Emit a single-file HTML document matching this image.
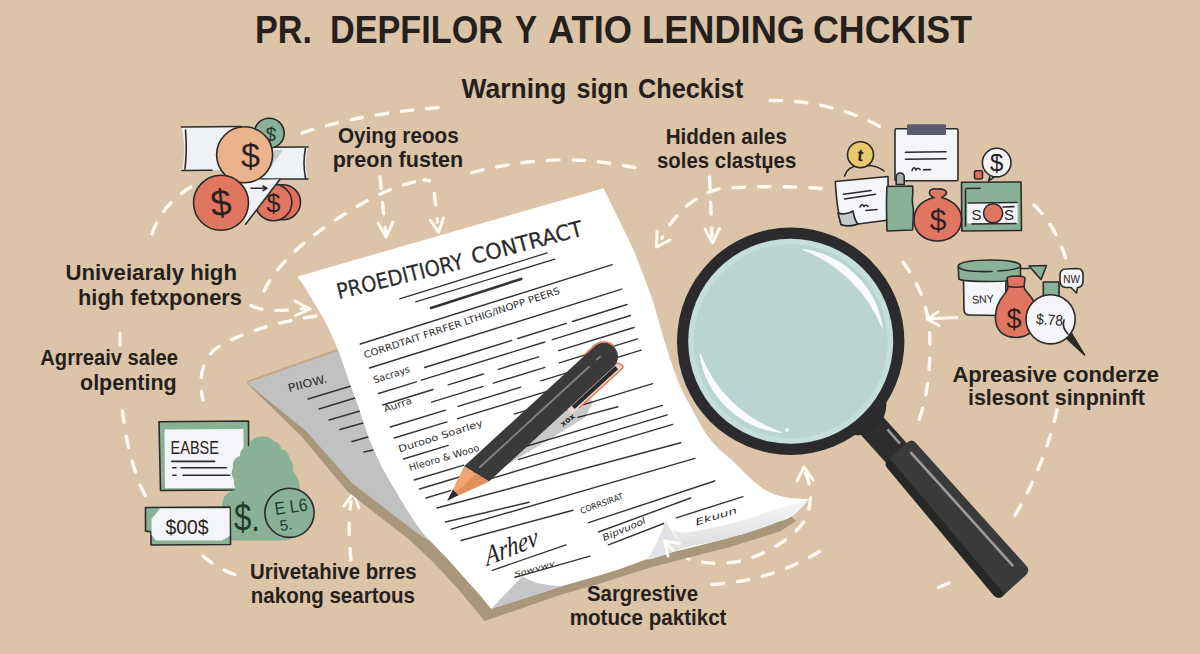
<!DOCTYPE html>
<html lang="en">
<head>
<meta charset="utf-8">
<title>Predatory Lending Checklist</title>
<style>
html,body{margin:0;padding:0;background:#dcc4a9;}
body{width:1200px;height:654px;overflow:hidden;}
svg{display:block;}
.lbl{font-family:"Liberation Sans",sans-serif;font-weight:700;fill:#261f1c;stroke:#261f1c;stroke-width:0;}
.hand{font-family:"DejaVu Sans","Liberation Sans",sans-serif;fill:#2b2b2b;}
.dash{fill:none;stroke:#fffaf2;stroke-width:3.4;stroke-linecap:round;stroke-dasharray:11.5 14;}
.ah{fill:none;stroke:#fffaf2;stroke-width:3;stroke-linecap:round;stroke-linejoin:round;}
.pl{stroke:#333;stroke-width:1.4;stroke-linecap:round;fill:none;}
.ol{stroke:#2a2a2a;stroke-width:1.6;stroke-linejoin:round;stroke-linecap:round;}
</style>
</head>
<body>
<svg width="1200" height="654" viewBox="0 0 1200 654">
<rect width="1200" height="654" fill="#dcc4a9"/>

<!-- ===== DASHES ===== -->
<g id="dashes">
<!-- A1: left arc into coins -->
<path class="dash" d="M152,234 C160,210 178,192 202,181"/>
<!-- A2 + C1: big top arc -->
<path class="dash" d="M302,133 C340,120 390,111 446,107"/>
<path class="dash" d="M770,100.5 C812,100 852,110 886,130"/>
<!-- A3: arc from paper-left up and across top -->
<path class="dash" d="M264,291 C280,258 320,226 376,196 C395,187 410,182 424,180"/>
<path class="dash" d="M472,172.7 C500,165 535,160 565,159.8 C595,160 622,164.5 648,170.5"/>
<path class="dash" d="M424,180 C431,179.7 433,183 434,190 L437.5,222" stroke-dashoffset="6"/>
<path class="ah" d="M430.3,220 L438.5,232.2 L443.5,218"/>
<!-- A4 vertical arrow -->
<path class="dash" d="M380,177 L385.5,232"/>
<path class="ah" d="M378,223 L386,237 L393,222"/>
<!-- A5: arrow to paper -->
<path class="dash" d="M251,305.5 C262,312 284,311 304,308.5"/>
<path class="ah" d="M295,301 L310,309 L295.5,315.5"/>
<!-- A6/B1: curve from paper left going down-left -->
<path class="dash" d="M316,316 C276,322 236,334 214,350 C202,362 198,380 203,400"/>
<!-- B2: long left vertical -->
<path class="ah" d="M120,333.5 L120,345"/>
<path class="dash" d="M122.5,411 C125,435 131,462 140,485 L147,499"/>
<!-- B3 -->
<path class="dash" d="M203,556 C212,564 224,571 236,575"/>
<!-- B4 up arrow -->
<path class="dash" d="M351,560 C349,540 348,520 351,502"/>
<path class="ah" d="M344,506 L353.5,493 L359,508"/>
<!-- C3 vertical arrow to lens -->
<path class="dash" d="M709.5,177 L712,236"/>
<path class="ah" d="M705,229 L712.5,243 L719.5,228.5"/>
<!-- C4 curve -->
<path class="dash" d="M821,188.5 C790,186 750,186 718,189 C694,196 674,214 662,238"/>
<path class="ah" d="M657,231 L656.5,247 L670,240"/>
<!-- C5/C7 big right arc -->
<path class="dash" d="M1034,205 C1052,222 1064,246 1070,275"/>
<path class="dash" d="M1057,410 C1048,450 1032,488 1011,522"/>
<path class="dash" d="M949,583 L936,588.5"/>
<!-- C6 -->
<path class="dash" d="M903,262 C918,282 927,304 929.5,330 C931,360 929,392 919,420"/>
<path class="ah" d="M930,318.8 L957,317.5"/>
<path class="ah" d="M938,312 L927,319 L939,325.5"/>
<!-- C8 double-arrow arc below paper -->
<path class="dash" d="M805.5,473 C813,490 812,508 803,523 C792,538 770,552 745,560 C725,565 702,564 688,558.5 C678,554 671,548 666,543"/>
<path class="ah" d="M797,481 L804,467 L813,480"/>
<!-- C9 -->
<path class="dash" d="M712,584.5 C756,582 796,568 828,546"/>
</g>

<!-- ===== PAPERS ===== -->
<g id="papers">
<!-- tan under-strip above grey paper -->
<path d="M247,380.8 L338,348.8 L340,353 L247,383.5 Z" fill="#c4a988"/>
<!-- shadow under everything -->
<path d="M247,383.5 L302,437 L347,491 L378,515.5 L408,538.5 L434,563 L459,590 L484.5,621 L560,595 L600,583.5 L652,567 L728,547.5 L780,531.5 L796,521 L790,515 L700,500 L500,500 L300,400 Z" fill="#a8977b"/>
<!-- grey paper -->
<path d="M247,383 L338,351 L400,470 L440,545 L427,539.5 L413,530 L383,507 L352,483 L306,431 Z" fill="#c1c1c1"/>
<g class="pl" stroke="#3a3a3a">
<path d="M308,399 L351,386"/><path d="M319,409 L355,398"/><path d="M329,420 L360,411"/>
<path d="M340,429.5 L363,423"/><path d="M352,441.5 L368,437"/><path d="M364,452 L373,450"/>
</g>
<text class="hand" font-size="11" transform="translate(289,392) rotate(-14)" textLength="40" lengthAdjust="spacingAndGlyphs">PIIOW.</text>

<!-- white paper -->
<path d="M297.5,276.5 L603.5,188.3
 L619.5,221 L633.6,250 C640,266 645,279 649,290 C654,304 658,318 661,329.5 C665,343 669,356 673.4,369 C678,382 683,393 688.7,403 C694,413 699,422 704,430.4 C712,443.5 722,452 731.8,460 C737,465 742,470 747,475.3 C753,481 759,486 766.2,490.6 C772,494 778,496 785.3,497.3 C793,498.5 800,499 808.5,499.3
 C804,505 799,511 793,515.4 C789,518 785,520 780,521 C760,529 740,535 723,539.5 C705,544 690,548 673,552
 L650,558 L620,569 L600,575.2 L562.4,585.9
 L491.2,608.8
 L478.5,593.4 C468,582 457,569 446.7,557.9 C438,549 430,541 422.2,532.2 C412,519 404,505 396,491.5 C390,482 386,474 383.3,470 C376,455 371,444 368,435 C364,425 361,415 358.8,407.6 C355,397 352,390 349.6,383 C346,372 342,361 339,352.6 C336,345 333,338 329.8,331 C325,321 320,312 314.5,303.6 C309,294 303,284 297.5,276.5 Z" fill="#ffffff"/>
<g id="paperlines" class="pl">
<path d="M399.7,298.8 L547.2,252.9" stroke-width="1.3"/>
<path d="M415.7,301.9 L554.8,259.1" stroke-width="1.3"/>
<path d="M431.0,308.0 L521.2,278.9" stroke-width="2.6"/>
<path d="M360.3,344.0 L612.3,264.6"/>
<path d="M369.4,368.0 L621.8,289.1"/>
<path d="M424.6,367.5 L511.7,340.4"/>
<path d="M517.8,338.5 L566.4,323.4"/>
<path d="M572.5,321.5 L627.1,304.5"/>
<path d="M378.5,393.5 L416.3,381.8"/>
<path d="M421.4,380.2 L544.8,342.0"/>
<path d="M552.4,339.7 L630.5,315.5"/>
<path d="M382.8,405.0 L433.1,389.5"/>
<path d="M448.2,384.8 L483.4,374.0"/>
<path d="M498.4,369.3 L538.6,356.9"/>
<path d="M558.7,350.7 L634.1,327.5"/>
<path d="M431.6,402.2 L483.1,386.4"/>
<path d="M493.4,383.2 L544.9,367.4"/>
<path d="M559.3,362.9 L637.6,338.9"/>
<path d="M390.3,427.0 L445.5,410.1"/>
<path d="M458.1,406.3 L520.8,387.1"/>
<path d="M540.8,380.9 L641.2,350.2"/>
<path d="M394.3,438.0 L447.0,421.9"/>
<path d="M457.6,418.7 L570.0,384.4"/>
<path d="M514.1,414.1 L560.0,400.2"/>
<path d="M403.5,459.0 L448.3,445.4"/>
<path d="M553.0,413.8 L652.7,383.6"/>
<path d="M523.3,435.3 L545.0,428.8"/>
<path d="M578.0,417.4 L617.9,406.7"/>
<path d="M414.2,480.0 L463.9,465.1"/>
<path d="M473.8,462.1 L662.5,405.4"/>
<path d="M419.5,489.0 L506.2,463.0"/>
<path d="M518.6,459.3 L667.3,414.8"/>
<path d="M426.0,498.0 L450.6,490.6"/>
<path d="M460.5,487.7 L672.7,424.4"/>
<path d="M437.0,508.0 L680.7,442.8"/>
<path d="M445.5,522.0 L529.0,502.3"/>
<path d="M451.2,529.2 L694.9,458.3"/>
<path d="M461.0,540.5 L573.0,510.2"/>
<path d="M492.3,570.3 L566.0,544.8"/>
<path d="M515.0,577.4 L590.0,556.1"/>
<path d="M588.6,522.7 L714.7,481.0"/>
<path d="M598.5,532.0 L690.6,498.0"/>
<path d="M608.4,544.8 L663.7,523.5"/>
<path d="M676.4,517.8 L743.0,496.6"/>
</g>
<g id="papertext">
<text class="hand" font-size="21.5" stroke="#2b2b2b" stroke-width="0.25" transform="translate(338.8,299.3) rotate(-13.9)" textLength="129.8" lengthAdjust="spacingAndGlyphs">PROEDITIORY</text>
<text class="hand" font-size="21.5" stroke="#2b2b2b" stroke-width="0.25" transform="translate(473.4,264.2) rotate(-14.6)" textLength="114.3" lengthAdjust="spacingAndGlyphs">CONTRACT</text>
<text class="hand" font-size="9.5" transform="translate(365,358.5) rotate(-18.4)" textLength="206" lengthAdjust="spacingAndGlyphs">CORRDTAIT FRRFER LTHIG/INOPP PEERS</text>
<text class="hand" font-size="9.5" transform="translate(374.5,383.5) rotate(-18)" textLength="38" lengthAdjust="spacingAndGlyphs">Sacrays</text>
<text class="hand" font-size="9.5" transform="translate(385,412.5) rotate(-19)" textLength="29" lengthAdjust="spacingAndGlyphs">Aurra</text>
<text class="hand" font-size="9.5" transform="translate(399.5,452.5) rotate(-17.7)" textLength="88" lengthAdjust="spacingAndGlyphs">Durooo Soarley</text>
<text class="hand" font-size="9.5" transform="translate(410,471) rotate(-16.2)" textLength="73" lengthAdjust="spacingAndGlyphs">Hleoro &amp; Wooo</text>
<text class="hand" font-size="8.5" transform="translate(581.5,514) rotate(-20)" textLength="45" lengthAdjust="spacingAndGlyphs">CORRSIRAT</text>
<text class="hand" font-size="9" font-style="italic" transform="translate(604,541) rotate(-23)" textLength="46" lengthAdjust="spacingAndGlyphs">Bipvuool</text>
<text class="hand" font-size="9" font-style="italic" transform="translate(696.5,525.5) rotate(-17)" textLength="43" lengthAdjust="spacingAndGlyphs">Ekuun</text>
<text class="hand" font-size="7" font-style="italic" transform="translate(515,577) rotate(-16)" textLength="42" lengthAdjust="spacingAndGlyphs">Sowvwv</text>
<!-- signature -->
<text font-family="Liberation Serif,serif" font-style="italic" font-size="27" fill="#222" transform="translate(487,566) rotate(-22) skewX(-12)" textLength="56" lengthAdjust="spacingAndGlyphs">Arhev</text>
</g>
<!-- bottom-left curl -->
<path d="M491.2,608.8 L522.6,576 C530,582 545,586 562.4,585.9 Z" fill="#c6c6c8"/>
<!-- subtle shading near bottom-right edge -->
<defs><linearGradient id="shg" x1="0" y1="0" x2="0.25" y2="1"><stop offset="0" stop-color="#ffffff"/><stop offset="1" stop-color="#dcdcde"/></linearGradient></defs>
<path d="M684,548 C700,544 712,542 723,539.5 C740,535 760,529 780,521 C789,518 799,511 808,500 C796,503 786,506 776,509 C750,519 720,527 690,532 C682,533 676,532 672,530 Z" fill="url(#shg)"/>
<!-- bottom-right fold -->
<path d="M665.5,519.5 C662,532 656,546 647,560 C655,558 664,555.5 673,552 L684,548 C678,540 670,530 665.5,519.5 Z" fill="#e3e3e6"/>
</g>

<!-- ===== MAGNIFIER ===== -->
<!-- ===== MAGNIFIER ===== -->
<g id="magnifier">
<!-- handle -->
<g transform="translate(898.1,452) rotate(48)">
  <!-- neck -->
  <rect x="-46" y="-12.4" width="52" height="28.6" fill="#2e2e2e"/>
  <rect x="-24" y="-8.4" width="19" height="2.6" fill="#98989a"/>
  <!-- collar -->
  <path d="M-56,-30 C-42,-26 -33,-14 -32.5,0 C-32.5,13 -40,23 -54,28 Z" fill="#29292b"/>
  <!-- grip (tapered) -->
  <path d="M5,-19.2 L170,-19.2 Q177,-19.2 177,-12 L177,18.5 Q177,25 170,24.8 L5,18.8 Q-1,18.6 -1,12.6 L-1,-13.2 Q-1,-19.2 5,-19.2 Z" fill="#3a3a3a"/>
  <path d="M-1,10.6 L177,16 L177,18.5 Q177,25 170,24.8 L5,18.8 Q-1,18.6 -1,12.6 Z" fill="#272726"/>
  <rect x="8" y="-10.5" width="154" height="2.6" rx="1.3" fill="#9c9c9c"/>
</g>
<!-- lens -->
<circle cx="790.7" cy="341.3" r="113.7" fill="#2b2b2d"/>
<circle cx="790.7" cy="341.3" r="102.5" fill="#c6deda"/>
<circle cx="790.7" cy="341.3" r="97" fill="#b9d4d1"/>
<path d="M803.6,249.7 A92.5,92.5 0 0 1 882.1,326.8 A140,140 0 0 0 803.6,249.7 Z" fill="#f7fcfb" stroke="#f7fcfb" stroke-width="1.2" stroke-linejoin="round"/>
<path d="M700.1,354.0 A91.5,91.5 0 0 0 781.1,432.3 A132,132 0 0 1 700.1,354.0 Z" fill="#f7fcfb" stroke="#f7fcfb" stroke-width="1.2" stroke-linejoin="round"/>
<circle cx="787" cy="430" r="2" fill="#f5fbfa"/>
</g>

<!-- ===== PENCIL ===== -->
<g id="pencil">
<!-- shadow -->
<path d="M446,502.5 L585,417.5 L593,402 L575,385 L470,480 Z" fill="#000" fill-opacity="0.21"/>
<text class="hand" font-size="8" font-weight="700" transform="translate(563,427) rotate(-38)">xox</text>
<g id="pencilbody" transform="translate(446.8,500.5) rotate(-42.6)">
  <!-- clip -->
  <path d="M150,12 L213,12 a7.5,7.5 0 0 1 7.5,7.5 a2,2 0 0 1 -2,2 L150,21.5 Z" fill="#ead6d0"/>
  <path d="M150,12 L213,12 a7.5,7.5 0 0 1 7.5,7.5 a2,2 0 0 1 -2,2 L160,21.5" fill="none" stroke="#e9734e" stroke-width="1.5"/>
  <path d="M156,15 L215,15 L215,19.3 L156,19.3 Z" fill="#2a2a2c"/>
  <!-- body -->
  <path d="M36,-13.5 L213,-13.5 a14,14 0 0 1 14,14 a14,14 0 0 1 -14,14 L44,14.5 Z" fill="#3a3a3a"/>
  <rect x="46" y="-3.1" width="150" height="1.9" fill="#808080"/>
  <rect x="205" y="-3.1" width="6" height="1.9" fill="#808080"/>
  <!-- orange rim at cap -->
  <path d="M200,-14.2 L213,-14.2 a14.6,14.6 0 0 1 14.6,14.6" fill="none" stroke="#e9734e" stroke-width="1.4"/>
  <!-- wood -->
  <path d="M36,-13.5 L44,14.5 L10,3.4 L10,-3.4 Z" fill="#efa672"/>
  <path d="M40,0 L44,14.5 L10,3.4 L10,0.5 Z" fill="#e28f5e"/>
  <!-- graphite -->
  <path d="M0,0.5 L12,-4 L12,4 Z" fill="#2a2a2c"/>
</g>
</g>
<!-- END PENCIL -->
<g id="dashes-top">
<path class="ah" d="M679,543.5 L664.5,541 L668,556"/>
<path class="ah" d="M666,543 L673,550"/>
</g>

<!-- ===== ICONS ===== -->
<g id="icons-tl">
<!-- white bills -->
<path d="M181.5,127 C200,128 225,127 241,126.5 L258,127 L258,170 L182,170.5 C185,156 185,141 181.5,127 Z" fill="#eef1f5"/>
<path d="M181.5,127 L241,126.5 M185.5,130 C186.5,142 186.5,156 185,169 M182,170.5 L212,170.3" fill="none" class="ol" stroke-width="1.8"/>
<path d="M258,147.5 L308,147 C305,158 305,168 308,179 L258,179 Z" fill="#eef1f5"/>
<path d="M260.5,147.3 L308,147 M305.5,148 C303.5,158 303.5,168 305.5,178 M261,179 L308,179" fill="none" class="ol" stroke-width="1.8"/>
<!-- grey shadow between -->
<path d="M268,150 L283,150 L270,168 Z" fill="#c9ccd2"/>
<!-- small red coins -->
<circle cx="283" cy="202.2" r="17.5" fill="#de705c" class="ol"/>
<circle cx="273.5" cy="202.4" r="18.3" fill="#e07561" class="ol"/>
<text x="273.5" y="211.5" font-size="25" text-anchor="middle" font-family="Liberation Sans,sans-serif" fill="#2a2220">$</text>
<!-- white triangle -->
<path d="M242.5,180.3 L280,179.3 L245.6,224.2 Z" fill="#f0f2f5"/>
<path d="M280,179.3 L245.6,224.2" fill="none" class="ol" stroke-width="1.8"/>
<path d="M251,188.3 L266.5,188.3 M263,186 L266.8,188.3 L263,190.6" fill="none" class="ol" stroke-width="1.5"/>
<!-- green coin -->
<circle cx="269.2" cy="133.2" r="15" fill="#89b196" class="ol"/>
<text x="271" y="141" font-size="20" text-anchor="middle" font-family="Liberation Sans,sans-serif" fill="#1f3a2c" transform="rotate(8 270 133)">$</text>
<!-- peach coin -->
<circle cx="244.6" cy="154.8" r="28" fill="#ebb38c" class="ol"/>
<text x="250.5" y="167" font-size="34" text-anchor="middle" font-family="Liberation Sans,sans-serif" fill="#2a2220">$</text>
<!-- big red coin -->
<circle cx="221" cy="202.8" r="27.5" fill="#e07561" class="ol"/>
<text x="221" y="215.5" font-size="37" text-anchor="middle" font-family="Liberation Sans,sans-serif" fill="#2a2220" transform="rotate(-6 221 203)">$</text>
</g>
<g id="icons-tr">
<!-- yellow coin + shoulders -->
<path d="M844.5,176 C847,168 853,165.5 860,166 C868,165 878,166 884,171" fill="none" class="ol" stroke-width="1.7"/>
<circle cx="860.5" cy="154.7" r="13" fill="#e9c96c" class="ol"/>
<text x="860.5" y="161" font-size="17" font-weight="700" text-anchor="middle" font-family="Liberation Sans,sans-serif" fill="#2a2220" transform="rotate(8 860 155)">t</text>
<!-- clipboard -->
<rect x="895" y="128.7" width="63" height="52" rx="1.5" fill="#f3f5f8" class="ol" stroke-width="1.7"/>
<rect x="907" y="124.3" width="39" height="10.6" rx="1" fill="#5b5c70"/>
<path d="M905.5,152.3 L946,151.8 M905.5,159.3 L946,158.8" fill="none" class="ol" stroke="#3a3a48" stroke-width="1.7"/>
<path d="M912,170.5 C913,167 915,167 916,170 C917,167.5 919,168 920,169.5 M923.5,169.8 L930.5,169.6" fill="none" class="ol" stroke-width="1.6"/>
<!-- left note paper -->
<path d="M835.3,181.5 L888,176.5 L888.5,220 L858,224 C852,226 846,226.5 841,224.5 C838,212 836,196 835.3,181.5 Z" fill="#f3f5f8" class="ol" stroke-width="1.7"/>
<path d="M838,213 C843,215 850,213 853,211 C854,217 855,221 858,224 C852,226 846,226.5 841,224.5 Z" fill="#c6cacc" class="ol" stroke-width="1.5"/>
<path d="M843.5,194.2 L871,190.5 M844.5,199 L875.5,194.3" fill="none" class="ol" stroke-width="1.6"/>
<path d="M860,207 C861,204 863,204 864,206.5 C865,204.5 867,205 868,206.5 M866,210.5 L877,209.5" fill="none" class="ol" stroke-width="1.5"/>
<!-- bottle -->
<path d="M896.2,184.5 L896.2,177 a4,4 0 0 1 8,0 L904.2,184.5 Z" fill="#a9adb0" class="ol" stroke-width="1.6"/>
<path d="M887,186.5 L912.5,186 C914,193 911,199 913,206 C914,214 913,223 912.5,230 L887,231 C886.5,216 886,201 887,186.5 Z" fill="#89b196" class="ol" stroke-width="1.7"/>
<!-- green box -->
<rect x="974.5" y="170.8" width="8" height="8.2" rx="1.5" fill="#de705c" class="ol" stroke-width="1.5"/>
<path d="M961.5,182.3 L1021,182 L1021.5,230.5 L961.8,231 Z" fill="#89b196" class="ol" stroke-width="1.8"/>
<path d="M966,188.5 L980,188.3 M965.5,190 L965.5,226" fill="none" class="ol" stroke="#2c4a3a" stroke-width="1.5"/>
<rect x="967.2" y="202.5" width="50.5" height="21" fill="#f3f5f8"/>
<path d="M968,203 L1017,202.5 M972,224 L1016,223.5" fill="none" class="ol" stroke="#2c4a3a" stroke-width="1.4"/>
<circle cx="993.1" cy="213.3" r="9.6" fill="#e07561" class="ol" stroke-width="1.5"/>
<text x="976.5" y="219.5" font-size="15" text-anchor="middle" font-family="Liberation Sans,sans-serif" fill="#2a2220">S</text>
<text x="1009" y="219.5" font-size="15" text-anchor="middle" font-family="Liberation Sans,sans-serif" fill="#2a2220">S</text>
<path d="M1003,207 L1014,206.6" fill="none" class="ol" stroke-width="1.4"/>
<!-- speech bubble -->
<path d="M990,176.5 L988.5,181 L994,177" fill="#f3f5f8" class="ol" stroke-width="1.5"/>
<circle cx="996.7" cy="162.6" r="14.3" fill="#f3f5f8" class="ol" stroke-width="1.6"/>
<text x="996.7" y="171.2" font-size="24" text-anchor="middle" font-family="Liberation Sans,sans-serif" fill="#2a2220">$</text>
<!-- money bag -->
<path d="M929.5,192 C930,189 934,188.5 937.8,189 C941.5,188.5 946,189.5 946.5,192.5 C946.8,195 943,196.5 941.5,197.5 C955,201 962,210 961.5,220 C961,233 950,241 937.5,241 C925,241 914,233 914,220 C914,209 921,201 934,197.5 C931.5,196.5 929,194.5 929.5,192 Z" fill="#e07561" class="ol" stroke-width="1.8"/>
<text x="938" y="230" font-size="30" text-anchor="middle" font-family="Liberation Sans,sans-serif" fill="#2a2220">$</text>
</g>
<g id="icons-r">
<!-- jar body -->
<path d="M963.5,279 L1006,279 L1005.5,310 C1005,314 1003,315.5 999,315.5 L969,315 C965.5,315 964,313 964,309 Z" fill="#f3f5f8" class="ol" stroke-width="1.7"/>
<!-- jar lid -->
<path d="M958.2,266 C958,262 975,260 990,260 C1006,260 1020.5,262 1020.5,266 L1020.5,277 C1018,280.5 1005,281.5 990,281.5 C975,281.5 961,280.5 958.8,279 Z" fill="#89b196" class="ol" stroke-width="1.7"/>
<path d="M958.5,267 C962,271 978,272 992,271.5 M998,271 C1008,270.5 1018,269 1020.5,266.5" fill="none" class="ol" stroke="#2c4a3a" stroke-width="1.6"/>
<text x="972" y="303" font-size="11" font-family="Liberation Sans,sans-serif" fill="#2a2220" textLength="22" lengthAdjust="spacingAndGlyphs" transform="rotate(-4 983 300)">SNY</text>
<!-- funnel + green block -->
<path d="M1020.5,268.5 L1029,268.5 M1029,266 L1046.5,265.5 L1041,279.5 Z" fill="#89b196" class="ol" stroke-width="1.6"/>
<rect x="1043.3" y="282" width="15.7" height="16" fill="#89b196" class="ol" stroke-width="1.6"/>
<!-- NW bubble -->
<path d="M1066,269 L1077,268.5 C1081,268.5 1083,271 1083,274.5 L1083,281 C1083,285 1081,287.5 1077.5,287.5 L1076.5,293 L1071,287.5 L1066,287.5 C1062,287.5 1060,285 1060,281 L1060,275 C1060,271 1062,269 1066,269 Z" fill="#f3f5f8" class="ol" stroke-width="1.6"/>
<text x="1071.5" y="282.5" font-size="10" text-anchor="middle" font-family="Liberation Sans,sans-serif" fill="#2a2220">NW</text>
<!-- red vase -->
<path d="M1007,278.5 C1007,276.5 1011,276 1016,276 C1021,276 1025,276.5 1025,278.5 L1024,286.5 C1024,290 1028,293 1031,297 C1036,303 1038,311 1037,319 C1036,330 1028,337.5 1016,337.5 C1003,337.5 996,330 995.5,319 C995,309 999,301 1003,296 C1006,292 1008,290 1008,286.5 Z" fill="#e07561" class="ol" stroke-width="1.8"/>
<path d="M1008,286.5 C1013,287.5 1019,287.5 1024,286.5" fill="none" class="ol" stroke-width="1.5"/>
<text x="1014" y="328" font-size="27" text-anchor="middle" font-family="Liberation Sans,sans-serif" fill="#2a2220">$</text>
<!-- white circle with pointer -->
<path d="M1064,336 L1084.5,355 L1070,331 Z" fill="#2a2a2a" class="ol" stroke-width="1.5"/>
<circle cx="1050.6" cy="319.3" r="24.6" fill="#f3f5f8" class="ol" stroke-width="1.8"/>
<text x="1036" y="325" font-size="15" font-family="Liberation Sans,sans-serif" fill="#2a2220" textLength="27" lengthAdjust="spacingAndGlyphs" transform="rotate(4 1050 320)">$.78</text>
<path d="M1064,320 C1062.5,325 1064,330 1068,334" fill="none" class="ol" stroke-width="2.3"/>
</g>
<g id="icons-bl">
<!-- green frame doc -->
<path d="M159,421.8 L248.5,421 L248.8,490 L160.5,490.5 Z" fill="#89b196" class="ol" stroke="#2c4a3a" stroke-width="1.5"/>
<path d="M164.5,429.5 L243.5,429 L243.5,465 C242,474 243,482 244.5,488 L165,488.3 Z" fill="#f3f5f8"/>
<text x="170.5" y="453.5" font-size="19" font-family="Liberation Sans,sans-serif" fill="#2a2220" textLength="48.5" lengthAdjust="spacingAndGlyphs">EABSE</text>
<path d="M171.8,461.4 L214.6,461.4 M172.8,467.8 L176,467.8 M181,467.8 L226.4,467.8 M172.8,475.3 L176,475.3 M183,475.3 L229.6,475.3" fill="none" class="ol" stroke-width="1.6"/>
<!-- green bag with cloud top -->
<path d="M222,506 C222,500 224,496 228,493 C231,491 234,490 237,489 C234,487 233,483 234.5,480 C231,476 231,471 233,468 C232,462 235,457 240,456 C240,450 244,446 249,446 C250,440 255,436.5 261,436.8 C266,436 271,437.5 274,441 C278,442 281,445 281,449 C286,450 289.5,454 289.5,459 C293,462 294,467 292.5,471 C297,475 299.5,480 299.5,486 L300,525 C299,535 292,540.6 282,540.6 L236,540.6 C226,540.6 222,534 222,524 Z" fill="#89b196"/>
<text x="234" y="531" font-size="38" font-family="Liberation Sans,sans-serif" fill="#1f3a2c" textLength="26" lengthAdjust="spacingAndGlyphs">$.</text>
<!-- coin -->
<circle cx="289.5" cy="512.8" r="24.6" fill="#89b196" class="ol" stroke="#1f3a2c" stroke-width="1.8"/>
<text x="275" y="513" font-size="18" font-family="Liberation Sans,sans-serif" fill="#1f3a2c" textLength="33" lengthAdjust="spacingAndGlyphs" transform="rotate(-8 290 510)">E L6</text>
<text x="279" y="529.5" font-size="15" font-family="Liberation Sans,sans-serif" fill="#1f3a2c" transform="rotate(-8 290 520)">5.</text>
<!-- bill -->
<path d="M145.5,507.5 L230,507 L230.6,544.5 L151,545 L151,532 L145.5,531 Z" fill="#89b196" class="ol" stroke="#2c4a3a" stroke-width="1.5"/>
<path d="M160,508.5 L229.6,508.5 L229.6,536 L222,540.6 L156,540.6 L151.5,535 L151.5,519 Z" fill="#f3f5f8"/>
<text x="165.5" y="534" font-size="20" font-family="Liberation Sans,sans-serif" fill="#2a2220" textLength="43" lengthAdjust="spacingAndGlyphs">$00$</text>
</g>

<!-- ===== LABELS ===== -->
<g id="labels">
<text class="lbl" y="43.3" font-size="39.5" stroke-width="1.5"><tspan x="255" textLength="57" lengthAdjust="spacingAndGlyphs">PR.</tspan><tspan x="330" textLength="173" lengthAdjust="spacingAndGlyphs">DEPFILOR</tspan><tspan x="515" textLength="22" lengthAdjust="spacingAndGlyphs">Y</tspan><tspan x="548" textLength="84" lengthAdjust="spacingAndGlyphs">ATIO</tspan><tspan x="642" textLength="163" lengthAdjust="spacingAndGlyphs">LENDING</tspan><tspan x="813" textLength="159" lengthAdjust="spacingAndGlyphs">CHCKIST</tspan></text>
<text class="lbl" y="98" font-size="27.4" stroke-width="0.6"><tspan x="461.6" textLength="104.7" lengthAdjust="spacingAndGlyphs">Warning</tspan><tspan x="576.6" textLength="51.7" lengthAdjust="spacingAndGlyphs">sign</tspan><tspan x="638" textLength="105.3" lengthAdjust="spacingAndGlyphs">Checkist</tspan></text>

<text class="lbl" x="338" y="143" font-size="22.5" textLength="120.7" lengthAdjust="spacingAndGlyphs">Oying reoos</text>
<text class="lbl" x="332.7" y="166.8" font-size="22.5" textLength="130.6" lengthAdjust="spacingAndGlyphs">preon fusten</text>

<text class="lbl" x="665.7" y="143.8" font-size="22.5" textLength="121.3" lengthAdjust="spacingAndGlyphs">Hidden aıles</text>
<text class="lbl" x="657" y="167.6" font-size="22.5" textLength="139.3" lengthAdjust="spacingAndGlyphs">soles clastџes</text>

<text class="lbl" x="65.5" y="280.3" font-size="22.5" textLength="171.5" lengthAdjust="spacingAndGlyphs">Univeiaraly high</text>
<text class="lbl" x="78" y="304.5" font-size="22.5" textLength="164" lengthAdjust="spacingAndGlyphs">high fetxponers</text>

<text class="lbl" x="40.3" y="365" font-size="22.5" textLength="137.7" lengthAdjust="spacingAndGlyphs">Agrreaiv salee</text>
<text class="lbl" x="80" y="389.8" font-size="22.5" textLength="96.7" lengthAdjust="spacingAndGlyphs">olpenting</text>

<text class="lbl" x="250" y="579.3" font-size="22.5" textLength="166.7" lengthAdjust="spacingAndGlyphs">Urivetahive brres</text>
<text class="lbl" x="250.8" y="603" font-size="22.5" textLength="164.2" lengthAdjust="spacingAndGlyphs">nakong seartous</text>

<text class="lbl" x="587" y="601.2" font-size="22.5" textLength="111" lengthAdjust="spacingAndGlyphs">Sargrestive</text>
<text class="lbl" x="569.7" y="624.5" font-size="22.5" textLength="156.8" lengthAdjust="spacingAndGlyphs">motuce paktikct</text>

<text class="lbl" x="952.4" y="381.5" font-size="22.5" textLength="206.6" lengthAdjust="spacingAndGlyphs">Apreasive conderze</text>
<text class="lbl" x="968" y="404.5" font-size="22.5" textLength="177" lengthAdjust="spacingAndGlyphs">islesont sinpninft</text>
</g>
</svg>
</body>
</html>
